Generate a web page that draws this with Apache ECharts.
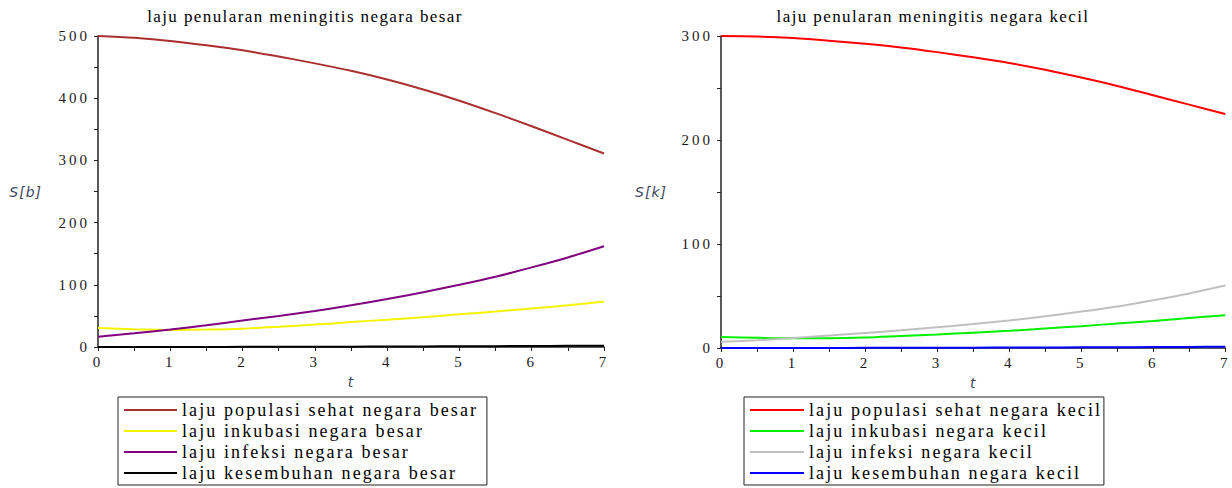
<!DOCTYPE html>
<html>
<head>
<meta charset="utf-8">
<script src="https://cdn.jsdelivr.net/npm/echarts@6/dist/echarts.min.js"></script>
<style>
  html, body { margin: 0; padding: 0; background: #fff; }
  #chart { width: 1232px; height: 488px; }
</style>
</head>
<body>
<div id="chart"></div>
<script>
// time grid (t)
const tValues = [0, 0.5, 1, 1.5, 2, 2.5, 3, 3.5, 4, 4.5, 5, 5.5, 6, 6.5, 7];

// large country (negara besar)
const sehatBesar = [500, 497, 492, 485, 477, 467, 456, 444, 430, 414, 396, 376, 355, 333, 311];
const inkubasiBesar = [30.5, 28.5, 27.5, 28, 29.5, 32.5, 36, 40, 44, 48, 52.5, 57, 62, 67, 73];
const infeksiBesar = [16.5, 22, 28, 35, 42.5, 50, 58, 67, 77, 88, 100, 113, 128, 144, 162];
const sembuhBesar = [0, 0.03, 0.08, 0.15, 0.24, 0.34, 0.46, 0.6, 0.76, 0.94, 1.14, 1.37, 1.62, 1.9, 2.2];

// small country (negara kecil)
const sehatKecil = [300, 299.5, 298, 295.5, 292.5, 289, 284.5, 279.5, 274, 267.5, 260, 252, 243, 234, 225];
const inkubasiKecil = [10.5, 9.8, 9.4, 9.4, 10, 11.5, 13, 14.7, 16.5, 18.8, 21, 23.5, 26, 28.8, 31.5];
const infeksiKecil = [6, 7.5, 9.5, 12, 14.5, 17, 20, 23, 26.5, 30.5, 35, 40, 46, 52.5, 60];
const sembuhKecil = [0, 0.02, 0.05, 0.09, 0.14, 0.2, 0.27, 0.35, 0.44, 0.54, 0.65, 0.77, 0.9, 1.04, 1.2];

const namesBesar = ['laju populasi sehat negara besar', 'laju inkubasi negara besar', 'laju infeksi negara besar', 'laju kesembuhan negara besar'];
const namesKecil = ['laju populasi sehat negara kecil', 'laju inkubasi negara kecil', 'laju infeksi negara kecil', 'laju kesembuhan negara kecil'];

const titles = ['laju penularan meningitis negara besar', 'laju penularan meningitis negara kecil'];
const yNames = ['S[b]', 'S[k]'];
const yMax = [500, 300];

const colorsBesar = ['#aa3030', '#f4f400', '#800080', '#000000'];
const colorsKecil = ['#ff0000', '#00f000', '#c0c0c0', '#0000ff'];

const SERIF = 'Liberation Serif';
const AXIS = '#222';

function pairs(vals) { return tValues.map((t, i) => [t, vals[i]]); }

function makeSeries(names, colors, arrays, idx) {
  return names.map((n, i) => ({
    name: n,
    type: 'line',
    xAxisIndex: idx,
    yAxisIndex: idx,
    data: pairs(arrays[i]),
    showSymbol: false,
    smooth: 0.3,
    lineStyle: { color: colors[i], width: 2 },
    itemStyle: { color: colors[i] },
    z: 3 + i
  }));
}

function xAxisCfg(idx) {
  return {
    gridIndex: idx, type: 'value', min: 0, max: 7, interval: 1,
    name: 't', nameLocation: 'middle', nameGap: 28,
    nameTextStyle: { fontFamily: 'DejaVu Sans', fontStyle: 'italic', fontSize: 14, color: '#3c4660' },
    axisLine: { lineStyle: { color: AXIS, width: 1.5 } },
    axisTick: { length: 4, lineStyle: { color: AXIS, width: 1 } },
    minorTick: { show: true, splitNumber: 2, length: 4, lineStyle: { color: AXIS, width: 1 } },
    splitLine: { show: false },
    axisLabel: { fontFamily: SERIF, fontSize: 15, color: '#1a1a1a', margin: 7 }
  };
}

function yAxisCfg(idx) {
  return {
    gridIndex: idx, type: 'value', min: 0, max: yMax[idx], interval: 100,
    name: yNames[idx], nameLocation: 'middle', nameRotate: 0, nameGap: idx === 0 ? 56 : 54,
    nameTextStyle: { fontFamily: 'DejaVu Sans', fontStyle: 'italic', fontSize: 14, color: '#3c4660' },
    axisLine: { show: true, lineStyle: { color: AXIS, width: 1.5 } },
    axisTick: { show: true, length: 4, lineStyle: { color: AXIS, width: 1 } },
    minorTick: { show: true, splitNumber: 2, length: 4, lineStyle: { color: AXIS, width: 1 } },
    splitLine: { show: false },
    axisLabel: { fontFamily: SERIF, fontSize: 15, color: '#1a1a1a', margin: 8 }
  };
}

function legendCfg(names, left, padRight, itemWidth) {
  return {
    data: names, orient: 'vertical', left: left, top: 397,
    icon: 'rect', itemWidth: itemWidth, itemHeight: 2, itemGap: 3,
    padding: [4, padRight, 3, 6],
    borderColor: '#222', borderWidth: 1,
    selectedMode: false,
    textStyle: { fontFamily: SERIF, fontSize: 18, color: '#000' }
  };
}

const option = {
  animation: false,
  backgroundColor: '#fff',
  title: titles.map((txt, i) => ({
    text: txt, left: i === 0 ? 305 : 933, top: 8, textAlign: 'center', padding: 0,
    textStyle: { fontFamily: SERIF, fontSize: 17, fontWeight: 'normal', color: '#000' }
  })),
  legend: [legendCfg(namesBesar, 118, 76, 53), legendCfg(namesKecil, 744, 69, 54)],
  grid: [
    { left: 98, top: 36, width: 506, height: 311 },
    { left: 721, top: 36, width: 507, height: 312 }
  ],
  xAxis: [xAxisCfg(0), xAxisCfg(1)],
  yAxis: [yAxisCfg(0), yAxisCfg(1)],
  series: [
    ...makeSeries(namesBesar, colorsBesar, [sehatBesar, inkubasiBesar, infeksiBesar, sembuhBesar], 0),
    ...makeSeries(namesKecil, colorsKecil, [sehatKecil, inkubasiKecil, infeksiKecil, sembuhKecil], 1)
  ]
};

const dom = document.getElementById('chart');
const chart = echarts.init(dom, null, { renderer: 'svg' });
chart.setOption(option);

// the typeset labels are set with a little extra tracking, keyed by font size
const TRACKING = { 17: 1.4, 18: 2.1, 15: 3, 14: 1 };
function applyTracking() {
  dom.querySelectorAll('text').forEach(el => {
    const fs = Math.round(parseFloat(getComputedStyle(el).fontSize));
    if (TRACKING[fs] != null) el.setAttribute('letter-spacing', TRACKING[fs]);
  });
}
chart.on('finished', applyTracking);
setTimeout(applyTracking, 30);
setTimeout(applyTracking, 200);
</script>
</body>
</html>
